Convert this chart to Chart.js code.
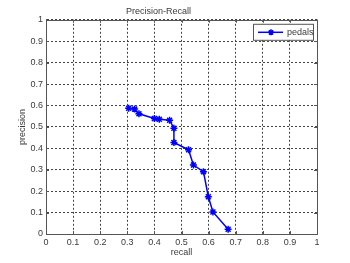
<!DOCTYPE html>
<html>
<head>
<meta charset="utf-8">
<script src="https://cdn.jsdelivr.net/npm/chart.js@4"></script>
<style>
  html, body { margin: 0; padding: 0; background: #fff; }
  #wrap { width: 350px; height: 263px; }
</style>
</head>
<body>
<div id="wrap"><canvas id="chart" width="350" height="263"></canvas></div>
<script>
const seriesName = "pedals";
const recall = [0.305, 0.327, 0.343, 0.40, 0.418, 0.456, 0.472, 0.472, 0.526, 0.544, 0.581, 0.599, 0.616, 0.672];
const precision = [0.587, 0.583, 0.561, 0.539, 0.536, 0.531, 0.494, 0.427, 0.393, 0.322, 0.291, 0.174, 0.103, 0.022];
const tickLabels = ["0", "0.1", "0.2", "0.3", "0.4", "0.5", "0.6", "0.7", "0.8", "0.9", "1"];

const points = recall.map((r, i) => ({ x: r, y: precision[i] }));
const tickFont = { family: "Liberation Sans, Arial, sans-serif", size: 9 };
const textColor = "#3a3a3a";

// box round the axes, inward tick marks, and legend inside top right
const matlabAxes = {
  id: "matlabAxes",
  afterDraw: (chart) => {
    const { ctx, chartArea: { left, right, top, bottom } } = chart;
    const xs = chart.scales.x;
    const ys = chart.scales.y;
    ctx.save();
    ctx.strokeStyle = "#555";
    ctx.lineWidth = 1;
    ctx.setLineDash([]);
    ctx.strokeRect(Math.round(left) + 0.5, Math.round(top) + 0.5, Math.round(right - left), Math.round(bottom - top));

    ctx.beginPath();
    xs.ticks.forEach((t) => {
      const px = Math.round(xs.getPixelForValue(t.value)) + 0.5;
      ctx.moveTo(px, bottom); ctx.lineTo(px, bottom - 3);
      ctx.moveTo(px, top); ctx.lineTo(px, top + 3);
    });
    ys.ticks.forEach((t) => {
      const py = Math.round(ys.getPixelForValue(t.value)) + 0.5;
      ctx.moveTo(left, py); ctx.lineTo(left + 3, py);
      ctx.moveTo(right, py); ctx.lineTo(right - 3, py);
    });
    ctx.stroke();

    // legend
    const bx = right - 64, by = top + 4, bw = 60, bh = 16;
    ctx.fillStyle = "#fff";
    ctx.fillRect(bx, by, bw, bh);
    ctx.strokeStyle = "#555";
    ctx.lineWidth = 1;
    ctx.strokeRect(bx + 0.5, by + 0.5, bw, bh);
    const ly = by + bh / 2 + 0.5;
    ctx.strokeStyle = "#0000ff";
    ctx.fillStyle = "#0000ff";
    ctx.lineWidth = 1.5;
    ctx.beginPath();
    ctx.moveTo(bx + 5, ly); ctx.lineTo(bx + 30, ly);
    ctx.stroke();
    Chart.helpers.drawPoint(ctx, { pointStyle: "star", radius: 3, borderWidth: 1.5 }, bx + 18, ly);
    ctx.fillStyle = textColor;
    ctx.font = "9px Liberation Sans, Arial, sans-serif";
    ctx.textBaseline = "middle";
    ctx.fillText(chart.data.datasets[0].label, bx + 34, ly);
    ctx.restore();
  },
};

new Chart(document.getElementById("chart"), {
  type: "line",
  data: {
    datasets: [
      {
        label: seriesName,
        data: points,
        borderColor: "#0000ff",
        backgroundColor: "#0000ff",
        borderWidth: 1.5,
        pointStyle: "star",
        pointRadius: 3.5,
        pointBorderWidth: 1.5,
        pointBorderColor: "#0000ff",
        tension: 0,
        fill: false,
      },
    ],
  },
  options: {
    responsive: false,
    animation: false,
    layout: { padding: { left: 0, right: 33, top: 0, bottom: 0 } },
    plugins: {
      legend: { display: false },
      tooltip: { enabled: false },
      title: {
        display: true,
        text: "Precision-Recall",
        color: textColor,
        font: { family: "Liberation Sans, Arial, sans-serif", size: 9, weight: "normal" },
        padding: { top: 6, bottom: 3 },
      },
    },
    scales: {
      x: {
        type: "linear",
        min: 0,
        max: 1,
        afterFit: (scale) => { scale.height = 29; },
        ticks: {
          stepSize: 0.1,
          autoSkip: false,
          maxRotation: 0,
          padding: 3,
          color: textColor,
          font: tickFont,
          callback: (v, i) => tickLabels[i],
        },
        grid: { color: "#444", lineWidth: 1, drawTicks: false },
        border: { display: true, color: "#555", dash: [2, 2] },
        title: {
          display: true,
          text: "recall",
          color: textColor,
          font: tickFont,
          padding: { top: 0, bottom: 5 },
        },
      },
      y: {
        min: 0,
        max: 1,
        afterFit: (scale) => { scale.width = 46; },
        ticks: {
          stepSize: 0.1,
          autoSkip: false,
          padding: 3,
          color: textColor,
          font: tickFont,
          callback: (v, i) => tickLabels[i],
        },
        grid: { color: "#444", lineWidth: 1, drawTicks: false },
        border: { display: true, color: "#555", dash: [2, 2] },
        title: {
          display: true,
          text: "precision",
          color: textColor,
          font: tickFont,
          padding: { top: 17, bottom: 0 },
        },
      },
    },
  },
  plugins: [matlabAxes],
});
</script>
</body>
</html>
